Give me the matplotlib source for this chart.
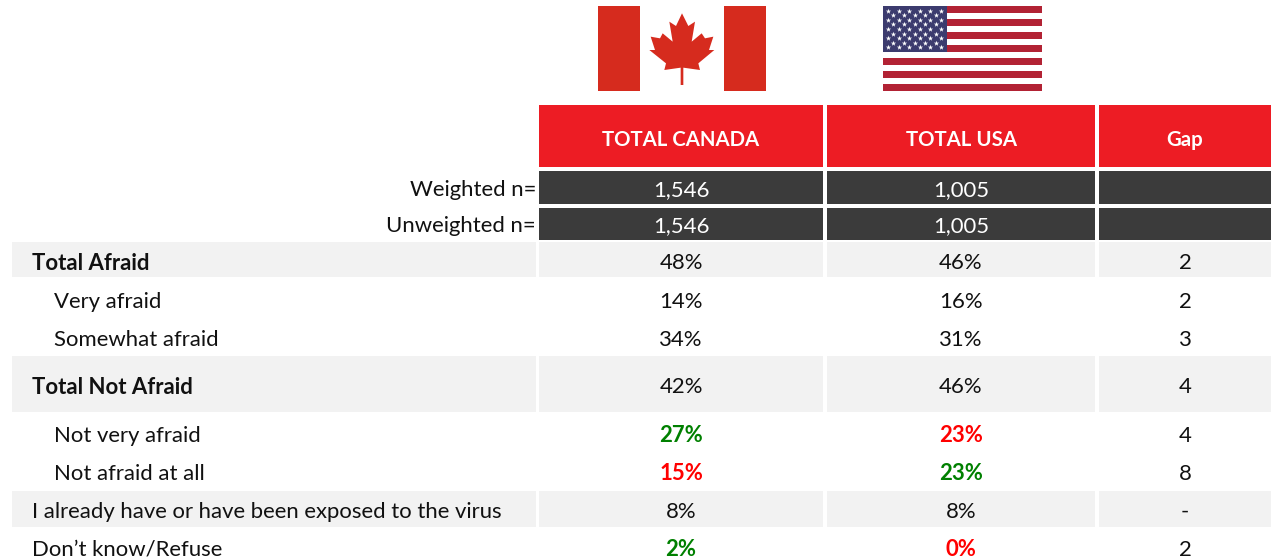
import matplotlib.pyplot as plt
from matplotlib.patches import Rectangle, Polygon

plt.rcParams["font.family"] = ["Lato", "DejaVu Sans"]

COLUMNAS = ["TOTAL CANADA", "TOTAL USA", "Gap"]
WEIGHTED = ["1,546", "1,005", ""]
UNWEIGHTED = ["1,546", "1,005", ""]

ETIQUETAS = [
    "Total Afraid",
    "Very afraid",
    "Somewhat afraid",
    "Total Not Afraid",
    "Not very afraid",
    "Not afraid at all",
    "I already have or have been exposed to the virus",
    "Don’t know/Refuse",
]
CANADA = ["48%", "14%", "34%", "42%", "27%", "15%", "8%", "2%"]
USA = ["46%", "16%", "31%", "46%", "23%", "23%", "8%", "0%"]
GAP = ["2", "2", "3", "4", "4", "8", "-", "2"]

# 0 negro, 1 verde, 2 rojo
COLOR_CANADA = [0, 0, 0, 0, 1, 2, 0, 1]
COLOR_USA = [0, 0, 0, 0, 2, 1, 0, 2]

NEGRITA = [True, False, False, True, False, False, False, False]
SANGRIA = [32, 54, 54, 32, 54, 54, 32, 32]
FONDO_GRIS = [True, False, False, True, False, False, True, False]

# filas en pixeles (arriba, abajo)
FILAS = [(242, 277), (281, 318), (319, 356), (356, 412), (415, 453),
         (453, 491), (491, 527), (530, 566)]
CENTROS_Y = [263, 302, 340, 387, 436, 474, 512, 550]

X_COLUMNAS = [(539, 823), (827, 1095), (1099, 1271)]
X_ETIQUETA = (12, 536)

ROJO = "#ED1C24"
OSCURO = "#3B3B3B"
GRIS = "#F2F2F2"
TEXTO = "#111111"
PALETA = [TEXTO, "#008000", "#FF0000"]
TAM = 15.9
TAM_TITULO = 14.7


def caja(ax, x0, x1, y0, y1, color):
    ax.add_patch(Rectangle((x0, y0), x1 - x0, y1 - y0, facecolor=color, edgecolor="none"))


def bandera_canada(ax):
    rojo = "#D62B1E"
    caja(ax, 598, 640, 6, 91, rojo)
    caja(ax, 724, 766, 6, 91, rojo)
    hoja = [(306, 40), (325, 78), (345, 65), (335, 125), (365, 100), (375, 115),
            (400, 110), (387, 150), (403, 150), (355, 190), (360, 210), (310, 203),
            (310, 255), (302, 255), (302, 203), (253, 210), (258, 190), (208, 150),
            (225, 150), (212, 110), (240, 115), (248, 100), (278, 125), (268, 65),
            (288, 78)]
    hoja = [(580 + x / 3, y / 3) for x, y in hoja]
    ax.add_patch(Polygon(hoja, closed=True, facecolor=rojo, edgecolor="none"))


def bandera_usa(ax):
    x0, x1, y0, y1 = 883, 1042, 6, 91
    alto = (y1 - y0) / 13
    for i in range(0, 13, 2):
        caja(ax, x0, x1, y0 + i * alto, y0 + (i + 1) * alto, "#B22234")
    caja(ax, x0, 947, y0, y0 + 7 * alto, "#3C3B6E")

    xs, ys = [], []
    for fila in range(9):
        n = 6 if fila % 2 == 0 else 5
        for col in range(n):
            desp = 0 if fila % 2 == 0 else 5.3
            xs.append(888 + desp + col * 10.6)
            ys.append(10.5 + fila * 4.6)
    ax.scatter(xs, ys, marker="*", s=16, color="white", linewidths=0, zorder=3)


def main():
    fig = plt.figure(figsize=(12.71, 5.59), dpi=100)
    ax = fig.add_axes([0, 0, 1, 1])
    ax.set_xlim(0, 1271)
    ax.set_ylim(559, 0)
    ax.axis("off")

    bandera_canada(ax)
    bandera_usa(ax)

    for (x0, x1), nombre in zip(X_COLUMNAS, COLUMNAS):
        caja(ax, x0, x1, 105, 167, ROJO)
        ax.text((x0 + x1) / 2, 140, nombre, color="white", fontsize=TAM_TITULO, fontweight="bold",
                ha="center", va="center")

    ax.text(536, 190, "Weighted n=", color=TEXTO, fontsize=TAM, ha="right", va="center")
    ax.text(536, 226, "Unweighted n=", color=TEXTO, fontsize=TAM, ha="right", va="center")
    for (x0, x1), w, u in zip(X_COLUMNAS, WEIGHTED, UNWEIGHTED):
        caja(ax, x0, x1, 171, 204, OSCURO)
        caja(ax, x0, x1, 208, 240, OSCURO)
        ax.text((x0 + x1) / 2, 190, w, color="white", fontsize=TAM, ha="center", va="center")
        ax.text((x0 + x1) / 2, 226, u, color="white", fontsize=TAM, ha="center", va="center")

    for i, etiqueta in enumerate(ETIQUETAS):
        y0, y1 = FILAS[i]
        yc = CENTROS_Y[i]
        if FONDO_GRIS[i]:
            caja(ax, X_ETIQUETA[0], X_ETIQUETA[1], y0, y1, GRIS)
            for x0, x1 in X_COLUMNAS:
                caja(ax, x0, x1, y0, y1, GRIS)

        peso = "bold" if NEGRITA[i] else "normal"
        ax.text(SANGRIA[i], yc, etiqueta, color=TEXTO, fontsize=TAM, fontweight=peso,
                ha="left", va="center")

        valores = [CANADA[i], USA[i], GAP[i]]
        colores = [COLOR_CANADA[i], COLOR_USA[i], 0]
        for (x0, x1), valor, c in zip(X_COLUMNAS, valores, colores):
            ax.text((x0 + x1) / 2, yc, valor, color=PALETA[c], fontsize=TAM,
                    fontweight="bold" if c else "normal", ha="center", va="center")

    fig.savefig("out.png", dpi=100)
    plt.close(fig)


if __name__ == "__main__":
    main()
